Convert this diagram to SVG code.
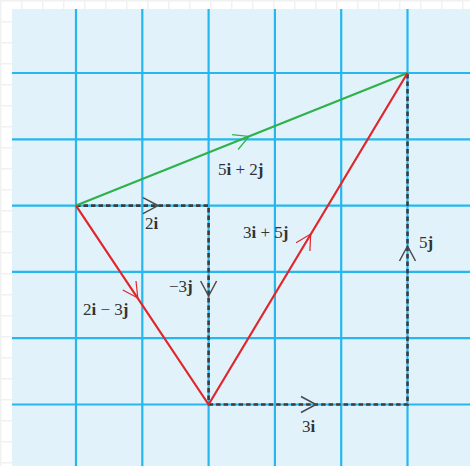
<svg xmlns="http://www.w3.org/2000/svg" width="470" height="466" viewBox="0 0 470 466">
<defs>
<style>
.grid{stroke:#27B7EE;stroke-width:2.2;fill:none}
.dash{stroke:#3d3d3d;stroke-width:2.6;stroke-dasharray:4.5 3;fill:none}
.red{stroke:#E0262B;stroke-width:2.2;fill:none}
.green{stroke:#2DB24A;stroke-width:2.2;fill:none}
.chev-d{stroke:#4a4a4a;stroke-width:1.5;fill:none}
.chev-r{stroke:#E0262B;stroke-width:1.2;fill:none}
.chev-g{stroke:#2DB24A;stroke-width:1.2;fill:none}
.t{font-family:'Liberation Serif','DejaVu Serif',serif;font-size:17px;fill:#333}
.b{font-weight:bold}
</style>
<pattern id="paper" width="21" height="21" patternUnits="userSpaceOnUse">
<rect width="21" height="21" fill="#ffffff"/>
<path d="M0 0.5H21M0.5 0V21" stroke="#f1f1f1" stroke-width="2"/>
</pattern>
</defs>
<rect width="470" height="466" fill="url(#paper)"/>
<rect x="12" y="9" width="458" height="457" fill="#E1F2FB"/>
<g id="grid" class="grid">
<path d="M76 9V466M142.3 9V466M208.6 9V466M274.9 9V466M341.2 9V466M407.5 9V466"/>
<path d="M12 73H470M12 139.3H470M12 205.6H470M12 271.9H470M12 338.2H470M12 404.5H470"/>
</g>
<g id="connectors">
<path class="dash" d="M76 205.6H208.6V404.5"/>
<path class="dash" d="M208.6 404.5H407.5V73"/>
<path class="green" d="M76 205.6L407.5 73"/>
<path class="red" d="M76 205.6L208.6 404.5L407.5 73"/>
<path class="chev-d" d="M143 197.6L158 205.6L143 213.6"/>
<path class="chev-d" d="M200.6 281L208.6 296L216.6 281"/>
<path class="chev-d" d="M301 396.5L316 404.5L301 412.5"/>
<path class="chev-d" d="M399.5 261L407.5 246L415.5 261"/>
<path class="chev-g" d="M232.1 134.7L249 136.5L238.1 149.5"/>
<path class="chev-r" d="M136 281L137.8 298L122.8 290"/>
<path class="chev-r" d="M296.1 242.8L310.7 234L309.9 251"/>
</g>
<g id="label-5i2j"><text class="t" x="218" y="175">5<tspan class="b">i</tspan> + 2<tspan class="b">j</tspan></text></g>
<g id="label-2i"><text class="t" x="145" y="229">2<tspan class="b">i</tspan></text></g>
<g id="label-3i5j"><text class="t" x="243" y="238">3<tspan class="b">i</tspan> + 5<tspan class="b">j</tspan></text></g>
<g id="label-m3j"><text class="t" x="169" y="292">−3<tspan class="b">j</tspan></text></g>
<g id="label-2i3j"><text class="t" x="83" y="315">2<tspan class="b">i</tspan> − 3<tspan class="b">j</tspan></text></g>
<g id="label-3i"><text class="t" x="302" y="432">3<tspan class="b">i</tspan></text></g>
<g id="label-5j"><text class="t" x="419" y="248">5<tspan class="b">j</tspan></text></g>
</svg>
